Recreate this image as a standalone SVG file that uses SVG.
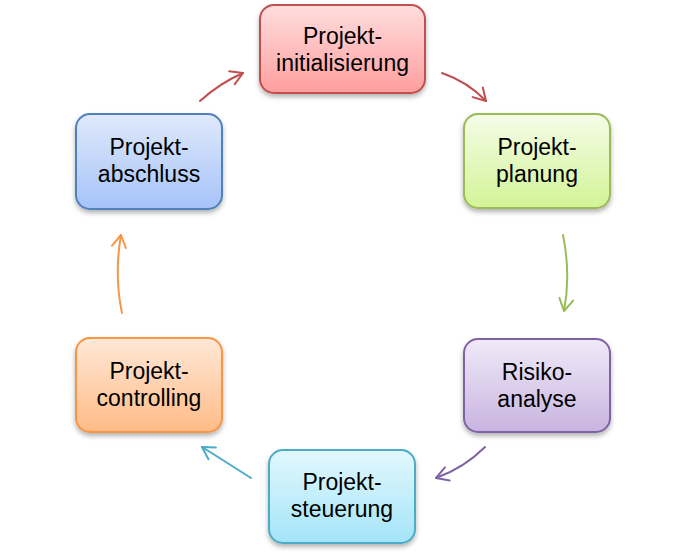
<svg xmlns="http://www.w3.org/2000/svg" width="685" height="556" viewBox="0 0 685 556">
<style>
.box{stroke-width:2;filter:url(#sh)}
.t{font-family:"Liberation Sans",Arial,sans-serif;font-size:23px;fill:#000;text-anchor:middle}
.c{fill:none;stroke-width:2;stroke-linecap:round}
</style>
<defs>
<filter id="sh" x="-20%" y="-20%" width="140%" height="150%"><feDropShadow dx="0" dy="3" stdDeviation="2.5" flood-color="#000" flood-opacity="0.3"/></filter>
<linearGradient id="gR" x1="0" y1="0" x2="0" y2="1"><stop offset="0" stop-color="#ffdede"/><stop offset="1" stop-color="#ff9e9e"/></linearGradient>
<linearGradient id="gG" x1="0" y1="0" x2="0" y2="1"><stop offset="0" stop-color="#f5fce8"/><stop offset="1" stop-color="#d2f496"/></linearGradient>
<linearGradient id="gP" x1="0" y1="0" x2="0" y2="1"><stop offset="0" stop-color="#f0eaf8"/><stop offset="1" stop-color="#c8b4e0"/></linearGradient>
<linearGradient id="gT" x1="0" y1="0" x2="0" y2="1"><stop offset="0" stop-color="#e2f8fd"/><stop offset="1" stop-color="#a4e4f8"/></linearGradient>
<linearGradient id="gO" x1="0" y1="0" x2="0" y2="1"><stop offset="0" stop-color="#ffe9d8"/><stop offset="1" stop-color="#ffbb86"/></linearGradient>
<linearGradient id="gB" x1="0" y1="0" x2="0" y2="1"><stop offset="0" stop-color="#dfe9fc"/><stop offset="1" stop-color="#a6c3f8"/></linearGradient>
<marker id="mR" markerUnits="userSpaceOnUse" markerWidth="30" markerHeight="30" viewBox="-15 -15 30 30" refX="0" refY="0" orient="auto"><path d="M-12,-7 L0,0 L-12,7" fill="none" stroke="#c0504d" stroke-width="2" stroke-linecap="round" stroke-linejoin="round"/></marker>
<marker id="mG" markerUnits="userSpaceOnUse" markerWidth="30" markerHeight="30" viewBox="-15 -15 30 30" refX="0" refY="0" orient="auto"><path d="M-12,-7 L0,0 L-12,7" fill="none" stroke="#9bbb59" stroke-width="2" stroke-linecap="round" stroke-linejoin="round"/></marker>
<marker id="mP" markerUnits="userSpaceOnUse" markerWidth="30" markerHeight="30" viewBox="-15 -15 30 30" refX="0" refY="0" orient="auto"><path d="M-12,-7 L0,0 L-12,7" fill="none" stroke="#8064a2" stroke-width="2" stroke-linecap="round" stroke-linejoin="round"/></marker>
<marker id="mT" markerUnits="userSpaceOnUse" markerWidth="30" markerHeight="30" viewBox="-15 -15 30 30" refX="0" refY="0" orient="auto"><path d="M-12,-7 L0,0 L-12,7" fill="none" stroke="#4bacc6" stroke-width="2" stroke-linecap="round" stroke-linejoin="round"/></marker>
<marker id="mO" markerUnits="userSpaceOnUse" markerWidth="30" markerHeight="30" viewBox="-15 -15 30 30" refX="0" refY="0" orient="auto"><path d="M-12,-7 L0,0 L-12,7" fill="none" stroke="#f79646" stroke-width="2" stroke-linecap="round" stroke-linejoin="round"/></marker>
</defs>
<rect width="685" height="556" fill="#fff"/>
<g id="connectors">
<path class="c" d="M200,101 Q220,83 243,73" stroke="#c0504d" marker-end="url(#mR)"/>
<path class="c" d="M442,73 Q468,82 486,101" stroke="#c0504d" marker-end="url(#mR)"/>
<path class="c" d="M563,235 Q571,275 564,311" stroke="#9bbb59" marker-end="url(#mG)"/>
<path class="c" d="M485,447 Q464,468 436,478" stroke="#8064a2" marker-end="url(#mP)"/>
<path class="c" d="M251,478 Q226,462 202,447" stroke="#4bacc6" marker-end="url(#mT)"/>
<path class="c" d="M122,313 Q114,275 121,235" stroke="#f79646" marker-end="url(#mO)"/>
</g>
<g id="init"><rect class="box" x="260" y="5" width="165" height="88" rx="14" fill="url(#gR)" stroke="#c0504d"/><text class="t" x="342.5" y="44">Projekt-</text><text class="t" x="342.5" y="71">initialisierung</text></g>
<g id="planung"><rect class="box" x="464" y="114" width="146" height="94" rx="14" fill="url(#gG)" stroke="#9bbb59"/><text class="t" x="537" y="155">Projekt-</text><text class="t" x="537" y="182">planung</text></g>
<g id="risiko"><rect class="box" x="464" y="339" width="146" height="93" rx="14" fill="url(#gP)" stroke="#8064a2"/><text class="t" x="537" y="380">Risiko-</text><text class="t" x="537" y="407">analyse</text></g>
<g id="steuerung"><rect class="box" x="269" y="450" width="146" height="93" rx="14" fill="url(#gT)" stroke="#4bacc6"/><text class="t" x="342" y="490">Projekt-</text><text class="t" x="342" y="517">steuerung</text></g>
<g id="controlling"><rect class="box" x="76" y="338" width="146" height="94" rx="14" fill="url(#gO)" stroke="#f79646"/><text class="t" x="149" y="379">Projekt-</text><text class="t" x="149" y="406">controlling</text></g>
<g id="abschluss"><rect class="box" x="76" y="114" width="146" height="95" rx="14" fill="url(#gB)" stroke="#4f81bd"/><text class="t" x="149" y="155">Projekt-</text><text class="t" x="149" y="182">abschluss</text></g>
</svg>
